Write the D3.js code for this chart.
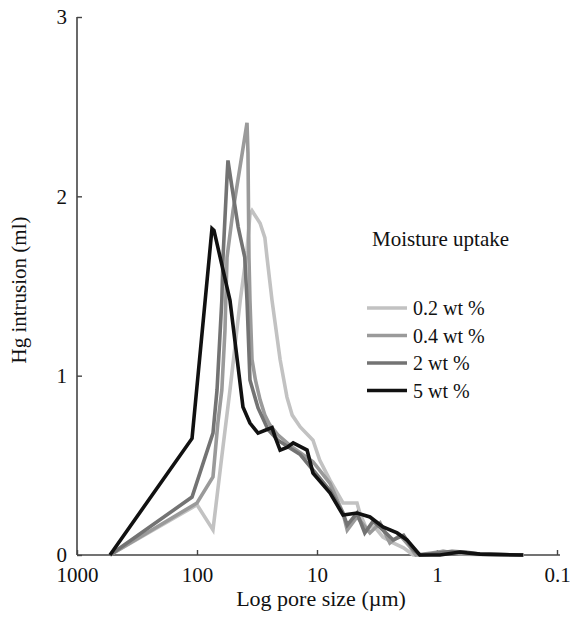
<!DOCTYPE html>
<html>
<head>
<meta charset="utf-8">
<script src="https://cdn.jsdelivr.net/npm/d3@7"></script>
<style>
  body { margin: 0; background: #fff; }
  text { fill: #111; }
</style>
</head>
<body>
<svg width="576" height="620" font-family="'Liberation Serif', 'Times New Roman', serif"></svg>
<script>
// pore size (um), Hg intrusion (ml)
const wt02 = [[531,0],[100,0.28],[73.6,0.14],[62.1,0.55],[53.1,0.92],[43.6,1.42],[38.3,1.70],[36.2,1.90],[34.8,1.92],[29.8,1.85],[27.2,1.77],[26.1,1.66],[23.7,1.42],[20.3,1.09],[17.8,0.88],[16.1,0.78],[13.8,0.714],[10.8,0.64],[9.5,0.53],[7.8,0.418],[6.07,0.29],[4.64,0.29],[4.4,0.234],[3.83,0.139],[3.4,0.167],[2.82,0.10],[2.32,0.067],[1.9,0.04],[1.58,0],[1.2,0],[0.89,0.02],[0.64,0.01],[0.44,0.005],[0.19,0]];
const wt04 = [[531,0],[100,0.29],[73.6,0.435],[67.0,0.736],[62.1,0.92],[58.5,1.25],[56.2,1.66],[50.1,1.92],[42.0,2.24],[38.3,2.41],[37.6,2.24],[36.9,1.66],[36.2,1.42],[34.8,1.09],[32.6,0.976],[29.8,0.865],[27.2,0.78],[24.7,0.725],[21.2,0.67],[16.7,0.61],[13.8,0.57],[10.8,0.52],[7.8,0.40],[6.07,0.234],[5.6,0.139],[4.64,0.212],[3.62,0.123],[2.98,0.178],[2.47,0.067],[2.03,0.11],[1.68,0.045],[1.5,0],[1.15,0.01],[0.89,0.02],[0.64,0.005],[0.19,0]];
const wt2 = [[531,0],[110,0.323],[73.6,0.68],[68.1,0.92],[62.1,1.42],[60.7,1.66],[56.2,2.11],[55.2,2.20],[51.1,2.05],[45.4,1.83],[40.0,1.66],[38.3,1.42],[36.2,0.976],[31.0,0.82],[25.6,0.70],[21.2,0.64],[16.7,0.595],[13.8,0.56],[10.8,0.474],[7.8,0.36],[6.07,0.234],[5.6,0.167],[4.64,0.234],[4.0,0.123],[3.4,0.19],[2.82,0.139],[2.32,0.084],[1.9,0.11],[1.58,0.03],[1.39,0],[1.0,0.01],[0.75,0.02],[0.56,0.015],[0.44,0.005],[0.19,0]];
const wt5 = [[531,0],[110,0.65],[75,1.82],[72.2,1.81],[53.1,1.42],[41.4,0.825],[36.2,0.736],[31.0,0.68],[26.1,0.70],[23.7,0.71],[22.4,0.66],[20.3,0.585],[17.8,0.60],[15.8,0.625],[12.1,0.585],[10.8,0.457],[7.8,0.346],[6.07,0.223],[4.64,0.234],[3.62,0.212],[2.82,0.156],[2.15,0.123],[1.78,0.084],[1.39,0],[0.944,0],[0.643,0.017],[0.562,0.012],[0.438,0.005],[0.192,0]];

const seriesNames = ['0.2 wt %', '0.4 wt %', '2 wt %', '5 wt %'];
const seriesData = [wt02, wt04, wt2, wt5];
const seriesColors = ['#c2c2c2', '#9a9a9a', '#737373', '#111111'];
const xTicks = [1000, 100, 10, 1, 0.1];
const yTicks = [0, 1, 2, 3];

const svg = d3.select('svg');
const font = "'Liberation Serif', 'Times New Roman', serif";
const margin = { top: 17, left: 77 };
const innerWidth = 483;
const innerHeight = 538;

const xScale = d3.scaleLog().domain([1000, 0.1]).range([0, 480]);
const yScale = d3.scaleLinear().domain([0, 3]).range([innerHeight, 0]);

const g = svg.append('g')
  .attr('transform', `translate(${margin.left}, ${margin.top})`);

// axes
const yAxis = d3.axisLeft(yScale).tickValues(yTicks).tickSize(-5).tickPadding(10).tickFormat(d3.format('d'));
const yG = g.append('g').call(yAxis).attr('font-size', 21).attr('font-family', font);
yG.select('.domain').attr('d', `M0,0V${innerHeight}`);

const xAxis = d3.axisBottom(xScale).tickValues(xTicks).tickSize(-5).tickPadding(12).tickFormat(d => String(d));
const xG = g.append('g')
  .attr('transform', `translate(0, ${innerHeight})`)
  .call(xAxis)
  .attr('font-size', 21)
  .attr('font-family', font);
xG.select('.domain').attr('d', `M0,0H${innerWidth}`);

svg.selectAll('.domain').attr('stroke', '#444').attr('stroke-width', 1.6);
svg.selectAll('.tick line').attr('stroke', '#444').attr('stroke-width', 1.4);
svg.selectAll('.tick text').attr('fill', '#111');

// lines
const line = d3.line()
  .x(d => xScale(d[0]))
  .y(d => yScale(d[1]));

g.selectAll('.series')
  .data(seriesData)
  .enter()
  .append('path')
  .attr('class', 'series')
  .attr('d', line)
  .attr('fill', 'none')
  .attr('stroke', (d, i) => seriesColors[i])
  .attr('stroke-width', 3.6)
  .attr('stroke-linejoin', 'miter');

// axis titles
svg.append('text')
  .attr('x', 321)
  .attr('y', 606)
  .attr('text-anchor', 'middle')
  .attr('font-size', 22)
  .text('Log pore size (\u00b5m)');

svg.append('text')
  .attr('transform', 'translate(26, 290) rotate(-90)')
  .attr('text-anchor', 'middle')
  .attr('font-size', 21)
  .text('Hg intrusion (ml)');

// legend
const legend = svg.append('g');
legend.append('text')
  .attr('x', 372)
  .attr('y', 246)
  .attr('font-size', 21)
  .text('Moisture uptake');

const items = legend.selectAll('.item')
  .data(seriesNames)
  .enter()
  .append('g')
  .attr('transform', (d, i) => `translate(367, ${308 + i * 27.5})`);

items.append('line')
  .attr('x1', 0).attr('x2', 40)
  .attr('stroke', (d, i) => seriesColors[i])
  .attr('stroke-width', 3.6);

items.append('text')
  .attr('x', 46)
  .attr('y', 7)
  .attr('font-size', 20)
  .text(d => d);
</script>
</body>
</html>
